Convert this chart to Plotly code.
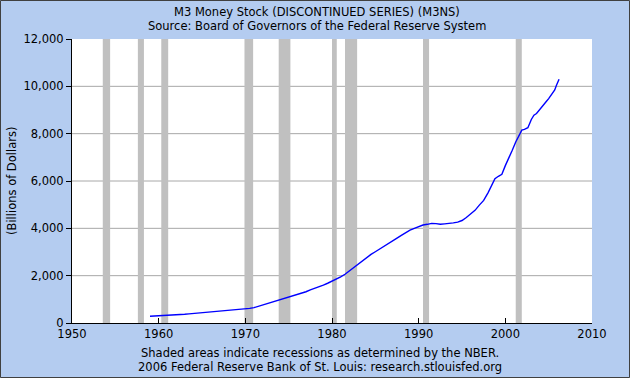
import plotly.graph_objects as go

# M3 money stock (billions of dollars)
years = [1959.0, 1959.5, 1960.0, 1960.5, 1961.0, 1961.5, 1962.0, 1962.5, 1963.0, 1963.5,
         1964.0, 1964.5, 1965.0, 1965.5, 1966.0, 1966.5, 1967.0, 1967.5, 1968.0, 1968.5,
         1969.0, 1969.5, 1969.7, 1969.9, 1970.2, 1970.5, 1971.0, 1971.5, 1972.0, 1972.5,
         1973.0, 1973.5, 1974.0, 1974.5, 1975.0, 1975.5, 1976.0, 1976.5, 1977.0, 1977.5,
         1978.0, 1978.5, 1979.0, 1979.5, 1980.0, 1980.5, 1981.0, 1981.5, 1982.0, 1982.5,
         1983.0, 1983.5, 1984.0, 1984.5, 1985.0, 1985.5, 1986.0, 1986.5, 1987.0, 1987.5,
         1988.0, 1988.5, 1989.0, 1989.5, 1990.0, 1990.5, 1991.0, 1991.5, 1992.0, 1992.5,
         1993.0, 1993.5, 1994.0, 1994.5, 1995.0, 1995.5, 1996.0, 1996.5, 1997.0, 1997.5,
         1998.0, 1998.5, 1998.8, 1999.2, 1999.6, 2000.0, 2000.4, 2000.8, 2001.2, 2001.6,
         2001.9, 2002.2, 2002.6, 2003.0, 2003.3, 2003.6, 2003.9, 2004.3, 2004.7, 2005.0,
         2005.4, 2005.7, 2005.9, 2006.2]
m3 = [288, 295, 300, 305, 312, 325, 340, 352, 368, 385,
      400, 418, 432, 450, 468, 480, 492, 510, 532, 552,
      575, 582, 600, 585, 600, 618, 650, 705, 755, 810,
      860, 915, 980, 1030, 1080, 1140, 1190, 1250, 1320, 1400,
      1460, 1530, 1600, 1680, 1770, 1840, 1950, 2060, 2200, 2330,
      2480, 2640, 2760, 2900, 3010, 3130, 3260, 3380, 3500, 3590,
      3700, 3820, 3920, 4000, 4080, 4140, 4170, 4210, 4200, 4170,
      4190, 4200, 4230, 4260, 4330, 4460, 4600, 4760, 4980, 5180,
      5500, 5850, 6100, 6200, 6280, 6650, 6950, 7300, 7650, 7900,
      8150, 8180, 8250, 8600, 8780, 8850, 9000, 9150, 9350, 9480,
      9700, 9850, 10050, 10300]

# NBER recessions (start, end) as decimal years
rec_start = [1953.55, 1957.6, 1960.3, 1969.9, 1973.85, 1980.0, 1981.5, 1990.5, 2001.2]
rec_end = [1954.4, 1958.3, 1961.1, 1970.9, 1975.2, 1980.55, 1982.9, 1991.2, 2001.9]

y_ticks = [0, 2000, 4000, 6000, 8000, 10000, 12000]
x_ticks = [1950, 1960, 1970, 1980, 1990, 2000, 2010]

title1 = "M3 Money Stock (DISCONTINUED SERIES) (M3NS)"
title2 = "Source: Board of Governors of the Federal Reserve System"
note1 = "Shaded areas indicate recessions as determined by the NBER."
note2 = "2006 Federal Reserve Bank of St. Louis: research.stlouisfed.org"
y_title = "(Billions of Dollars)"

W, H = 630, 378
ML, MR, MT, MB = 72, 38, 39, 55
FONT = "DejaVu Sans"
FS = 11.5
BG = "#b4ccf0"

fig = go.Figure()
fig.add_trace(go.Scatter(x=years, y=m3, mode="lines",
                         line=dict(color="#0000ff", width=1.4),
                         hoverinfo="skip", showlegend=False))

shapes = []
for v in y_ticks[1:-1]:
    shapes.append(dict(type="line", xref="paper", yref="y", x0=0, x1=1, y0=v, y1=v,
                       line=dict(color="#a8a8a8", width=1), layer="below"))
for s, e in zip(rec_start, rec_end):
    shapes.append(dict(type="rect", xref="x", yref="paper", x0=s, x1=e, y0=0, y1=1,
                       fillcolor="#c0c0c0", line=dict(width=0), layer="below"))
pw, ph = W - ML - MR, H - MT - MB
shapes.append(dict(type="rect", xref="paper", yref="paper",
                   x0=-ML / pw + 0.5 / pw, x1=1 + (MR - 0.5) / pw,
                   y0=-MB / ph + 0.5 / ph, y1=1 + (MT - 0.5) / ph,
                   line=dict(color="#404040", width=1), fillcolor="rgba(0,0,0,0)", layer="above"))

ann = [
    dict(text=title1, x=317, y=H - 12),
    dict(text=title2, x=317, y=H - 26),
    dict(text=note1, x=320, y=H - 353),
    dict(text=note2, x=320, y=H - 367),
]
annotations = []
for a in ann:
    annotations.append(dict(text=a["text"], xref="paper", yref="paper",
                            x=(a["x"] - ML) / pw, y=(a["y"] - MB) / ph,
                            xanchor="center", yanchor="middle", showarrow=False,
                            font=dict(family=FONT, size=FS, color="#000000")))
annotations.append(dict(text=y_title, xref="paper", yref="paper",
                        x=(12 - ML) / pw, y=0.5, textangle=-90,
                        xanchor="center", yanchor="middle", showarrow=False,
                        font=dict(family=FONT, size=FS, color="#000000")))

fig.update_layout(
    width=W, height=H,
    margin=dict(l=ML, r=MR, t=MT, b=MB, pad=0),
    paper_bgcolor=BG, plot_bgcolor="#ffffff",
    font=dict(family=FONT, size=FS, color="#000000"),
    shapes=shapes, annotations=annotations,
    xaxis=dict(range=[1950, 2010], tickvals=x_ticks, showgrid=False, zeroline=False,
               showline=True, linecolor="#000000", linewidth=1,
               ticks="inside", ticklen=5, tickcolor="#000000",
               tickfont=dict(family=FONT, size=FS), fixedrange=True),
    yaxis=dict(range=[0, 12000], tickvals=y_ticks, tickformat=",", showgrid=False,
               zeroline=False, showline=True, linecolor="#000000", linewidth=1,
               ticks="outside", ticklen=5, tickcolor="#000000",
               tickfont=dict(family=FONT, size=FS), fixedrange=True),
)

fig.write_html("out.html", config={"displayModeBar": False},
               post_script="document.body.style.margin='0';document.body.style.padding='0';")
